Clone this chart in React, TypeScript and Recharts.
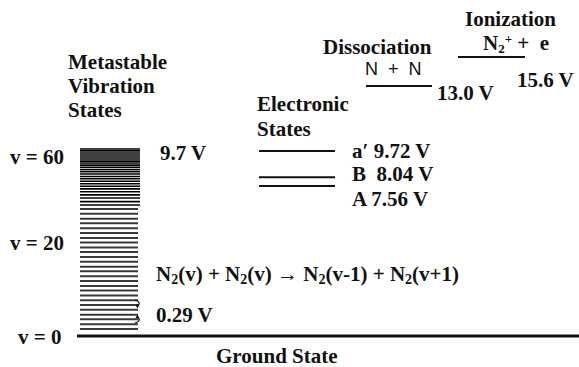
import { ComposedChart, Line, XAxis, YAxis } from 'recharts';

const W = 579;
const H = 367;
const SERIF = '"Liberation Serif", "Times New Roman", serif';
const SANS = '"Liberation Sans", Arial, sans-serif';

// level energies in volts (diagram is only roughly to scale)
const vibLower = [0.36, 0.61, 0.87, 1.11, 1.37, 1.61, 1.86, 2.11, 2.37, 2.61, 2.87, 3.11, 3.37, 3.61, 3.87, 4.11, 4.37, 4.61, 4.87, 5.11, 5.37, 5.61, 5.87, 6.11, 6.37, 6.61];
const vibUpper = [6.82, 7.0, 7.19, 7.35, 7.51, 7.66, 7.8, 7.93, 8.06, 8.19, 8.31, 8.44, 8.56, 8.67, 8.79, 8.9, 9.01, 9.11, 9.22, 9.32, 9.43, 9.53, 9.64, 9.74];
const electronicLevels = [9.64, 8.27, 7.81];
const groundLevel = [0];
const dissociationLevel = [13.02];
const ionizationLevel = [14.53];

const electronicLabels = [
  { name: 'a\u2032', value: '9.72 V' },
  { name: 'B ', value: '8.04 V' },
  { name: 'A', value: '7.56 V' },
];
const vLabels = ['v = 60', 'v = 20', 'v = 0'];

// one short horizontal line per level
const levelLines = (
  key: string,
  levels: number[],
  x0: number,
  x1: number,
  stroke: string,
  width: number
) =>
  levels.map((e, i) => (
    <Line
      key={`${key}-${i}`}
      data={[
        { x: x0, e },
        { x: x1, e },
      ]}
      dataKey="e"
      stroke={stroke}
      strokeWidth={width}
      dot={false}
      activeDot={false}
      isAnimationActive={false}
    />
  ));

const T = (props: any) => (
  <text
    fontFamily={SERIF}
    fontWeight="bold"
    fontSize={21}
    fill="#111"
    dominantBaseline="central"
    {...props}
  />
);

export default function App() {
  return (
    <div style={{ position: 'relative', width: W, height: H, background: '#fff' }}>
      <style>{'body{margin:0}'}</style>
      <ComposedChart width={W} height={H} margin={{ top: 0, right: 0, bottom: 0, left: 0 }}>
        <XAxis type="number" dataKey="x" domain={[0, W]} hide allowDataOverflow />
        <YAxis type="number" dataKey="e" domain={[-1.615, 17.5]} hide allowDataOverflow />
        {levelLines('g', groundLevel, 77, 579, '#111', 3)}
        {levelLines('vl', vibLower, 80, 138, '#3a3a3a', 2)}
        {levelLines('vu', vibUpper, 80, 140, '#000', 1.6)}
        {levelLines('el', electronicLevels, 259, 335, '#111', 2)}
        {levelLines('d', dissociationLevel, 366, 432, '#111', 2)}
        {levelLines('i', ionizationLevel, 458, 525, '#111', 2)}
      </ComposedChart>

      <svg width={W} height={H} style={{ position: 'absolute', left: 0, top: 0, pointerEvents: 'none' }}>
        <T x={68} y={62}>Metastable</T>
        <T x={68} y={86}>Vibration</T>
        <T x={68} y={110}>States</T>

        <T x={10} y={157}>{vLabels[0]}</T>
        <T x={10} y={243}>{vLabels[1]}</T>
        <T x={18} y={337}>{vLabels[2]}</T>

        <T x={160} y={153}>9.7 V</T>

        <T x={257} y={104}>Electronic</T>
        <T x={257} y={129}>States</T>
        {electronicLabels.map((l, i) => (
          <T key={l.name} x={352} y={[151, 174, 199][i]} xmlSpace="preserve">
            {l.name} {l.value}
          </T>
        ))}

        <T x={323} y={47}>Dissociation</T>
        <text x={365} y={69} fontFamily={SANS} fontSize={18} fill="#111" dominantBaseline="central" xmlSpace="preserve">
          N  +  N
        </text>
        <T x={437} y={93}>13.0 V</T>

        <T x={465} y={19}>Ionization</T>
        <T x={483} y={43} xmlSpace="preserve">
          N<tspan fontSize={13} dy={5}>2</tspan>
          <tspan fontSize={13} dy={-10}>+</tspan>
          <tspan dy={5}> +  e</tspan>
        </T>
        <T x={517} y={80}>15.6 V</T>

        <T x={156} y={274}>
          N<tspan fontSize={14} dy={5}>2</tspan>
          <tspan dy={-5}>(v) + N</tspan>
          <tspan fontSize={14} dy={5}>2</tspan>
          <tspan dy={-5}>(v) {'\u2192'} N</tspan>
          <tspan fontSize={14} dy={5}>2</tspan>
          <tspan dy={-5}>(v-1) + N</tspan>
          <tspan fontSize={14} dy={5}>2</tspan>
          <tspan dy={-5}>(v+1)</tspan>
        </T>
        <T x={156} y={315}>0.29 V</T>
        <T x={216} y={356}>Ground State</T>

        {/* small hop arrows on the ladder */}
        <path d="M135 300 Q142 302 137.5 306" fill="none" stroke="#111" strokeWidth={1.2} />
        <polygon points="135.5,305 139.5,304.5 137.5,308.5" fill="#111" />
        <path d="M135 323 Q142 321 137.5 317" fill="none" stroke="#111" strokeWidth={1.2} />
        <polygon points="135.5,318 139.5,318.5 137.5,314.5" fill="#111" />
      </svg>
    </div>
  );
}
